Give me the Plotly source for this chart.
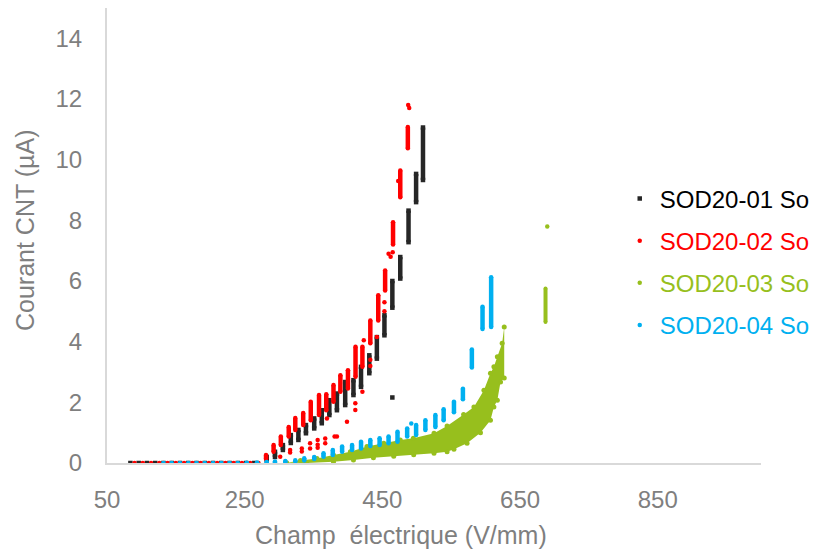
import plotly.graph_objects as go

# ---------------- data ----------------
# SOD20-01 So : vertical runs of points (field, current min, current max)
s1_field = [282, 294, 305.5, 317, 328, 339, 351, 362, 373, 384, 396, 408, 419, 431, 442, 453, 464.5, 476, 488, 499, 509]
s1_lo = [0.10, 0.20, 0.43, 0.66, 0.76, 0.98, 1.14, 1.31, 1.58, 1.74, 1.91, 2.24, 2.51, 2.96, 3.44, 4.21, 5.12, 6.08, 7.28, 8.60, 9.33]
s1_hi = [0.20, 0.37, 0.59, 0.92, 1.09, 1.25, 1.47, 1.74, 2.07, 2.29, 2.67, 2.73, 3.17, 3.55, 4.15, 4.87, 6.00, 6.79, 8.32, 9.53, 11.06]
s1_pts_x = [84, 96, 108, 120, 132, 144, 156, 168, 180, 192, 204, 216, 228, 240, 252, 264, 464.5]
s1_pts_y = [0, 0, 0, 0, 0, 0, 0, 0, 0, 0, 0, 0, 0, 0, 0, 0, 2.16]

# SOD20-02 So
s2_field = [281, 292, 302.5, 314, 323.5, 335, 346, 358, 368.5, 379, 389, 400, 411, 421, 432.5, 444, 454, 465.5, 476, 487]
s2_lo = [0.13, 0.37, 0.59, 0.87, 1.09, 1.25, 1.41, 1.58, 1.74, 2.02, 2.35, 2.46, 2.84, 3.17, 3.95, 4.70, 5.69, 7.20, 8.76, 10.38]
s2_hi = [0.26, 0.59, 0.87, 1.19, 1.48, 1.65, 2.02, 2.24, 2.27, 2.57, 2.89, 3.06, 3.83, 3.83, 4.70, 5.53, 6.35, 7.94, 9.64, 11.08]
s2_pts_x = [90, 102, 114, 126, 138, 150, 162, 174, 186, 198, 210, 222, 234, 246, 258, 270,
            301.6, 316, 316, 333, 333, 345, 345, 356, 356, 356, 367, 367, 369.5, 380.6, 384, 398.6,
            410.7, 410.7, 421, 423, 432.5, 432.5, 442, 453, 453, 459, 462, 465, 473, 487.5, 489]
s2_pts_y = [0, 0, 0, 0, 0, 0, 0, 0, 0, 0, 0, 0, 0, 0, 0, 0,
            0.21, 0.43, 0.35, 0.48, 0.38, 0.65, 0.48, 0.76, 0.60, 0.50, 0.81, 0.65, 1.47, 0.87, 0.87, 1.36,
            1.97, 1.75, 2.35, 4.05, 3.40, 3.20, 4.15, 5.30, 5.00, 6.90, 6.80, 6.95, 9.30, 11.80, 11.70]

# SOD20-03 So : dense cloud, upper and lower edges
s3_up_x = [311, 331, 355, 379, 403.5, 427.6, 452, 476, 495, 525, 544, 568, 583, 597.5, 607, 612, 617, 624, 627]
s3_up_y = [0.01, 0.08, 0.15, 0.26, 0.37, 0.54, 0.65, 0.76, 0.82, 0.98, 1.22, 1.60, 1.85, 2.40, 2.96, 3.17, 3.50, 3.95, 4.48]
s3_low_x = [627, 621.6, 617, 612, 607, 592.5, 573, 554, 544, 525, 495.5, 466.5, 437, 408, 379, 340]
s3_low_y = [2.80, 2.67, 2.07, 1.85, 1.41, 1.00, 0.65, 0.45, 0.37, 0.32, 0.27, 0.22, 0.17, 0.10, 0.04, 0.00]
s3_run_field = [687]
s3_run_lo = [4.65]
s3_run_hi = [5.75]
s3_pts_x = [689.5]
s3_pts_y = [7.80]

# SOD20-04 So
s4_field = [253, 268, 282, 294, 309, 323.5, 336.5, 351, 364.5, 378, 391.5, 406, 419, 432.5, 446, 459, 472, 486, 499, 512.5, 527, 539, 554, 567, 580, 595.5, 608]
s4_lo = [0, 0, 0.01, 0.02, 0.03, 0.05, 0.08, 0.13, 0.21, 0.26, 0.37, 0.43, 0.48, 0.56, 0.59, 0.65, 0.70, 0.87, 0.92, 1.09, 1.19, 1.41, 1.67, 2.10, 3.15, 4.42, 4.48]
s4_hi = [0.01, 0.02, 0.03, 0.05, 0.07, 0.09, 0.16, 0.20, 0.32, 0.43, 0.54, 0.59, 0.70, 0.76, 0.82, 0.87, 1.03, 1.14, 1.25, 1.41, 1.58, 1.77, 2.02, 2.45, 3.74, 5.15, 6.12]
s4_pts_x = [132, 144, 156, 168, 180, 192, 204, 216, 228, 240, 492]
s4_pts_y = [0, 0, 0, 0, 0, 0, 0, 0, 0, 0, 1.30]

names = ["SOD20-01 So", "SOD20-02 So", "SOD20-03 So", "SOD20-04 So"]
colors = ["#262626", "#FF0000", "#97BF1D", "#00B0F0"]
legend_text_colors = ["#000000", "#FF0000", "#97BF1D", "#00B0F0"]

x_ticks = [50, 250, 450, 650, 850]
y_ticks = [0, 2, 4, 6, 8, 10, 12, 14]

FONT = "Liberation Sans, Arial, sans-serif"
GRAY = "#7F7F7F"


def runs(xs, lo, hi):
    X, Y = [], []
    for x, a, b in zip(xs, lo, hi):
        X += [x, x, None]
        Y += [a, b, None]
    return X, Y


def label(i):
    return f"<span style='color:{legend_text_colors[i]}'>{names[i]}</span>"


fig = go.Figure()


def add_runs(xs, lo, hi, color, symbol, width, group):
    X, Y = runs(xs, lo, hi)
    fig.add_trace(go.Scatter(x=X, y=Y, mode="lines+markers", showlegend=False,
                             legendgroup=group, hoverinfo="skip",
                             line=dict(color=color, width=width),
                             marker=dict(color=color, size=width, symbol=symbol)))


# series 1
add_runs(s1_field, s1_lo, s1_hi, colors[0], "square", 4.5, "g1")
fig.add_trace(go.Scatter(x=s1_pts_x, y=s1_pts_y, mode="markers", name=label(0), legendgroup="g1",
                         legendrank=1, marker=dict(color=colors[0], size=4.5, symbol="square")))
# series 2
add_runs(s2_field, s2_lo, s2_hi, colors[1], "circle", 4.5, "g2")
fig.add_trace(go.Scatter(x=s2_pts_x, y=s2_pts_y, mode="markers", name=label(1), legendgroup="g2",
                         legendrank=2, marker=dict(color=colors[1], size=4.5, symbol="circle")))
# series 3
fig.add_trace(go.Scatter(x=s3_up_x + s3_low_x, y=s3_up_y + s3_low_y, mode="none", fill="toself",
                         fillcolor=colors[2], showlegend=False, legendgroup="g3", hoverinfo="skip"))
fig.add_trace(go.Scatter(x=s3_up_x + s3_low_x, y=s3_up_y + s3_low_y, mode="markers", showlegend=False,
                         legendgroup="g3", marker=dict(color=colors[2], size=5)))
add_runs(s3_run_field, s3_run_lo, s3_run_hi, colors[2], "circle", 4, "g3")
fig.add_trace(go.Scatter(x=s3_pts_x, y=s3_pts_y, mode="markers", name=label(2), legendgroup="g3",
                         legendrank=3, marker=dict(color=colors[2], size=4.5, symbol="circle")))
# series 4
add_runs(s4_field, s4_lo, s4_hi, colors[3], "circle", 4.5, "g4")
fig.add_trace(go.Scatter(x=s4_pts_x, y=s4_pts_y, mode="markers", name=label(3), legendgroup="g4",
                         legendrank=4, marker=dict(color=colors[3], size=4.5, symbol="circle")))

# the page adds an 8 px body margin, so the figure is made 8 px smaller
fig.update_layout(
    width=810, height=546,
    margin=dict(l=99, r=57, t=0, b=91),
    paper_bgcolor="white", plot_bgcolor="white",
    font=dict(family=FONT, color=GRAY, size=24),
    showlegend=True,
    legend=dict(x=0.784, y=0.630, xanchor="left", yanchor="top", bgcolor="rgba(0,0,0,0)",
                font=dict(size=24), tracegroupgap=8, itemwidth=30),
    xaxis=dict(range=[50, 1000], tickmode="array", tickvals=x_ticks, ticktext=[str(v) for v in x_ticks],
               showgrid=False, zeroline=False, showline=True, linecolor="#D9D9D9", linewidth=2,
               ticks="", ticklabelstandoff=14, tickfont=dict(size=24, color=GRAY)),
    yaxis=dict(range=[0, 15], tickmode="array", tickvals=y_ticks, ticktext=[str(v) for v in y_ticks],
               showgrid=False, zeroline=False, showline=True, linecolor="#D9D9D9", linewidth=2,
               ticks="", ticklabelstandoff=18, tickfont=dict(size=24, color=GRAY)),
    annotations=[
        dict(text="Champ \u00a0électrique (V/mm)", xref="paper", yref="paper", x=0.4495, y=-0.158,
             xanchor="center", yanchor="middle", showarrow=False, font=dict(size=25, color=GRAY)),
        dict(text="Courant CNT (µA)", xref="paper", yref="paper", x=-0.1254, y=0.512,
             xanchor="center", yanchor="middle", textangle=-90, showarrow=False,
             font=dict(size=25, color=GRAY)),
    ],
)

fig.write_html("out.html")
